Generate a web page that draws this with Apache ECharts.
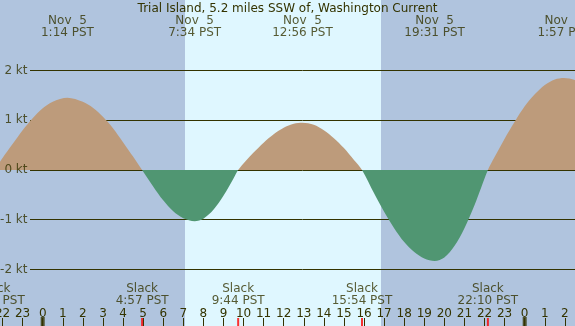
<!DOCTYPE html>
<html>
<head>
<meta charset="utf-8">
<script src="https://cdn.jsdelivr.net/npm/echarts@6/dist/echarts.min.js"></script>
<style>
  html, body { margin: 0; padding: 0; background: #b0c4de; }
  #chart { width: 575px; height: 326px; }
</style>
</head>
<body>
<div id="chart"></div>
<script>
// 流速采样：小时数（自 11月5日 0:00 起），单位 kt
const hours = [-3, -2.4, -2, -1.5, -1, -0.5, 0, 0.5, 1.233, 2, 2.5, 3, 3.5, 4, 4.5, 4.95,
  5.5, 6, 6.5, 7, 7.567, 8, 8.5, 9, 9.5, 9.733,
  10.5, 11, 11.5, 12, 12.5, 12.933, 13.5, 14, 14.5, 15, 15.5, 15.9,
  16.5, 17, 17.5, 18, 18.5, 19, 19.517, 20, 20.5, 21, 21.5, 22.167,
  22.5, 23, 23.5, 24, 24.5, 25, 25.5, 25.95, 26.5, 27];
const knots = [-0.28, 0, 0.24, 0.52, 0.8, 1.04, 1.24, 1.37, 1.45, 1.37, 1.25, 1.07, 0.84, 0.56, 0.27, 0,
  -0.33, -0.61, -0.83, -0.97, -1.03, -0.98, -0.8, -0.52, -0.17, 0,
  0.35, 0.55, 0.72, 0.85, 0.93, 0.95, 0.91, 0.8, 0.64, 0.44, 0.2, 0,
  -0.47, -0.84, -1.17, -1.45, -1.65, -1.78, -1.83, -1.76, -1.53, -1.17, -0.71, 0,
  0.26, 0.63, 0.97, 1.28, 1.52, 1.71, 1.82, 1.85, 1.81, 1.68];

// 极值（顶部标注）
const extremeTimes = [1.233, 7.567, 12.933, 19.517, 25.95];
const extremeDates = ['Nov  5', 'Nov  5', 'Nov  5', 'Nov  5', 'Nov  6'];
const extremeClock = ['1:14 PST', '7:34 PST', '12:56 PST', '19:31 PST', '1:57 PST'];

// 憩流（底部标注）
const slackTimes = [-2.4, 4.95, 9.733, 15.9, 22.167];
const slackClock = ['21:36 PST', '4:57 PST', '9:44 PST', '15:54 PST', '22:10 PST'];

const daylight = [7.086, 16.845];
const midnights = [0, 24];
const ktLevels = [2, 1, 0, -1, -2];
const hourTicks = [-2, -1, 0, 1, 2, 3, 4, 5, 6, 7, 8, 9, 10, 11, 12, 13, 14, 15, 16, 17, 18, 19, 20, 21, 22, 23, 24, 25, 26];

const X_MIN = -2.126, X_MAX = 26.505;
const Y_MIN = -3.136, Y_MAX = 3.417;
const LINE_START = -0.632;

const INK = '#333300';
const FONT = 'DejaVu Sans';

const chart = echarts.init(document.getElementById('chart'));

chart.setOption({
  backgroundColor: '#b0c4de',
  animation: false,
  title: {
    text: 'Trial Island, 5.2 miles SSW of, Washington Current',
    left: 'center',
    top: 3,
    padding: 0,
    textStyle: { color: INK, fontSize: 12, fontWeight: 'normal', fontFamily: FONT }
  },
  grid: { left: 0, right: 0, top: 0, bottom: 0, outerBoundsMode: 'none', containLabel: false },
  xAxis: {
    type: 'value',
    min: X_MIN,
    max: X_MAX,
    minInterval: 1,
    maxInterval: 1,
    z: 4,
    axisLine: { show: false, onZero: false },
    splitLine: { show: false },
    axisTick: { inside: true, length: 8, customValues: hourTicks, lineStyle: { color: INK, width: 1 } },
    axisLabel: {
      inside: true,
      margin: 6,
      customValues: hourTicks,
      color: INK,
      fontSize: 12,
      fontFamily: FONT,
      formatter: (v) => Number.isInteger(v) ? String(((v % 24) + 24) % 24) : ''
    }
  },
  yAxis: {
    type: 'value',
    min: Y_MIN,
    max: Y_MAX,
    show: false
  },
  visualMap: {
    type: 'piecewise',
    show: false,
    dimension: 1,
    seriesIndex: 0,
    pieces: [
      { min: -10, max: 0, color: '#509672' },
      { min: 0, max: 10, color: '#bd9b7b' }
    ]
  },
  series: [
    {
      name: 'current',
      type: 'line',
      z: 3,
      silent: true,
      smooth: 0.3,
      showSymbol: false,
      lineStyle: { width: 0 },
      areaStyle: { opacity: 1 },
      data: hours.map((h, i) => [h, knots[i]])
    },
    {
      type: 'line',
      data: [],
      silent: true,
      markArea: {
        silent: true,
        z: 1,
        itemStyle: { color: '#dff7ff' },
        data: [[{ xAxis: daylight[0] }, { xAxis: daylight[1] }]]
      }
    },
    {
      type: 'line',
      data: [],
      silent: true,
      markLine: {
        silent: true,
        z: 2,
        symbol: 'none',
        lineStyle: { color: INK, width: 1, type: 'solid' },
        label: { show: false },
        data: ktLevels.map((v) => [
          { coord: [LINE_START, v] },
          { coord: [X_MAX, v] }
        ])
      }
    },
    {
      // kt 刻度文字，放在填充之上
      type: 'scatter',
      z: 5,
      silent: true,
      symbolSize: 1,
      itemStyle: { color: 'rgba(0,0,0,0)' },
      label: {
        show: true,
        position: 'left',
        distance: 2,
        color: INK,
        fontSize: 12,
        fontFamily: FONT,
        formatter: (p) => ktLevels[p.dataIndex] + ' kt'
      },
      data: ktLevels.map((v) => [LINE_START, v])
    },
    {
      type: 'scatter',
      z: 4,
      silent: true,
      symbol: 'rect',
      symbolSize: [2, 8],
      symbolOffset: [0, -4],
      itemStyle: { color: '#ff0000' },
      data: slackTimes.map((t) => [t, Y_MIN])
    },
    {
      type: 'scatter',
      z: 4,
      silent: true,
      symbol: 'rect',
      symbolSize: [4, 9],
      symbolOffset: [0, -4.5],
      itemStyle: { color: INK },
      data: midnights.map((t) => [t, Y_MIN])
    },
    {
      type: 'scatter',
      z: 5,
      silent: true,
      clip: false,
      symbolSize: 1,
      itemStyle: { color: 'rgba(0,0,0,0)' },
      label: {
        show: true,
        position: 'bottom',
        distance: 14,
        align: 'center',
        lineHeight: 12,
        color: INK,
        fontSize: 12,
        fontFamily: FONT,
        formatter: (p) => extremeDates[p.dataIndex] + '\n' + extremeClock[p.dataIndex]
      },
      data: extremeTimes.map((t) => [t, Y_MAX])
    },
    {
      type: 'scatter',
      z: 5,
      silent: true,
      clip: false,
      symbolSize: 1,
      itemStyle: { color: 'rgba(0,0,0,0)' },
      label: {
        show: true,
        position: 'top',
        distance: 19,
        align: 'center',
        lineHeight: 12,
        color: INK,
        fontSize: 12,
        fontFamily: FONT,
        formatter: (p) => 'Slack\n' + slackClock[p.dataIndex]
      },
      data: slackTimes.map((t) => [t, Y_MIN])
    }
  ]
});

window.addEventListener('resize', () => chart.resize());
</script>
</body>
</html>
